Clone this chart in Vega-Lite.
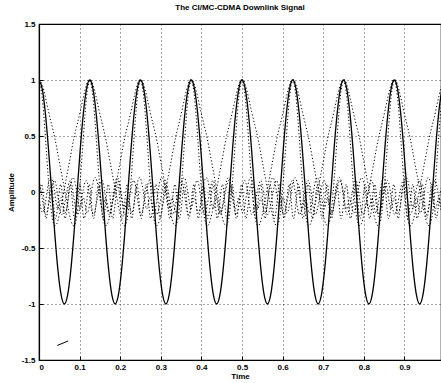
{
"$schema": "https://vega.github.io/schema/vega-lite/v6.json",
"autosize": "none",
"padding": {"left": 39, "top": 24, "right": 0, "bottom": 23},
"width": 402,
"height": 336,
"background": "white",
"title": {"text": "The CI/MC-CDMA Downlink Signal", "fontSize": 8, "font": "Liberation Sans", "fontWeight": "bold", "offset": 8, "color": "black"},
"data": {"values": [
{"t":0,"s":1,"a":1,"b":1,"c":0.1,"d":-0.05,"e":-0.1},
{"t":0.0078,"s":0.924,"a":0.96,"b":0.85,"c":-0.05,"d":-0.18,"e":0.06},
{"t":0.0156,"s":0.707,"a":0.85,"b":0.5,"c":-0.2,"d":-0.1,"e":-0.22},
{"t":0.0234,"s":0.383,"a":0.72,"b":0.1,"c":-0.12,"d":0.08,"e":-0.1},
{"t":0.0313,"s":0,"a":0.6,"b":-0.2,"c":0.03,"d":0.12,"e":0.06},
{"t":0.0391,"s":-0.383,"a":0.48,"b":-0.3,"c":0.1,"d":-0.02,"e":-0.22},
{"t":0.0469,"s":-0.707,"a":0.33,"b":-0.25,"c":-0.05,"d":-0.15,"e":-0.1},
{"t":0.0547,"s":-0.924,"a":0.18,"b":-0.12,"c":-0.2,"d":-0.05,"e":0.06},
{"t":0.0625,"s":-1,"a":0.03,"b":0.03,"c":-0.12,"d":-0.18,"e":-0.22},
{"t":0.0703,"s":-0.924,"a":-0.12,"b":0.18,"c":0.03,"d":-0.1,"e":-0.1},
{"t":0.0781,"s":-0.707,"a":-0.25,"b":0.33,"c":0.1,"d":0.08,"e":0.06},
{"t":0.0859,"s":-0.383,"a":-0.3,"b":0.48,"c":-0.05,"d":0.12,"e":-0.22},
{"t":0.0938,"s":0,"a":-0.2,"b":0.6,"c":-0.2,"d":-0.02,"e":-0.1},
{"t":0.1016,"s":0.383,"a":0.1,"b":0.72,"c":-0.12,"d":-0.15,"e":0.06},
{"t":0.1094,"s":0.707,"a":0.5,"b":0.85,"c":0.03,"d":-0.05,"e":-0.22},
{"t":0.1172,"s":0.924,"a":0.85,"b":0.96,"c":0.1,"d":-0.18,"e":-0.1},
{"t":0.125,"s":1,"a":1,"b":1,"c":-0.05,"d":-0.1,"e":0.06},
{"t":0.1328,"s":0.924,"a":0.96,"b":0.85,"c":-0.2,"d":0.08,"e":-0.22},
{"t":0.1406,"s":0.707,"a":0.85,"b":0.5,"c":-0.12,"d":0.12,"e":-0.1},
{"t":0.1484,"s":0.383,"a":0.72,"b":0.1,"c":0.03,"d":-0.02,"e":0.06},
{"t":0.1563,"s":0,"a":0.6,"b":-0.2,"c":0.1,"d":-0.15,"e":-0.22},
{"t":0.1641,"s":-0.383,"a":0.48,"b":-0.3,"c":-0.05,"d":-0.05,"e":-0.1},
{"t":0.1719,"s":-0.707,"a":0.33,"b":-0.25,"c":-0.2,"d":-0.18,"e":0.06},
{"t":0.1797,"s":-0.924,"a":0.18,"b":-0.12,"c":-0.12,"d":-0.1,"e":-0.22},
{"t":0.1875,"s":-1,"a":0.03,"b":0.03,"c":0.03,"d":0.08,"e":-0.1},
{"t":0.1953,"s":-0.924,"a":-0.12,"b":0.18,"c":0.1,"d":0.12,"e":0.06},
{"t":0.2031,"s":-0.707,"a":-0.25,"b":0.33,"c":-0.05,"d":-0.02,"e":-0.22},
{"t":0.2109,"s":-0.383,"a":-0.3,"b":0.48,"c":-0.2,"d":-0.15,"e":-0.1},
{"t":0.2188,"s":0,"a":-0.2,"b":0.6,"c":-0.12,"d":-0.05,"e":0.06},
{"t":0.2266,"s":0.383,"a":0.1,"b":0.72,"c":0.03,"d":-0.18,"e":-0.22},
{"t":0.2344,"s":0.707,"a":0.5,"b":0.85,"c":0.1,"d":-0.1,"e":-0.1},
{"t":0.2422,"s":0.924,"a":0.85,"b":0.96,"c":-0.05,"d":0.08,"e":0.06},
{"t":0.25,"s":1,"a":1,"b":1,"c":-0.2,"d":0.12,"e":-0.22},
{"t":0.2578,"s":0.924,"a":0.96,"b":0.85,"c":-0.12,"d":-0.02,"e":-0.1},
{"t":0.2656,"s":0.707,"a":0.85,"b":0.5,"c":0.03,"d":-0.15,"e":0.06},
{"t":0.2734,"s":0.383,"a":0.72,"b":0.1,"c":0.1,"d":-0.05,"e":-0.22},
{"t":0.2813,"s":0,"a":0.6,"b":-0.2,"c":-0.05,"d":-0.18,"e":-0.1},
{"t":0.2891,"s":-0.383,"a":0.48,"b":-0.3,"c":-0.2,"d":-0.1,"e":0.06},
{"t":0.2969,"s":-0.707,"a":0.33,"b":-0.25,"c":-0.12,"d":0.08,"e":-0.22},
{"t":0.3047,"s":-0.924,"a":0.18,"b":-0.12,"c":0.03,"d":0.12,"e":-0.1},
{"t":0.3125,"s":-1,"a":0.03,"b":0.03,"c":0.1,"d":-0.02,"e":0.06},
{"t":0.3203,"s":-0.924,"a":-0.12,"b":0.18,"c":-0.05,"d":-0.15,"e":-0.22},
{"t":0.3281,"s":-0.707,"a":-0.25,"b":0.33,"c":-0.2,"d":-0.05,"e":-0.1},
{"t":0.3359,"s":-0.383,"a":-0.3,"b":0.48,"c":-0.12,"d":-0.18,"e":0.06},
{"t":0.3438,"s":0,"a":-0.2,"b":0.6,"c":0.03,"d":-0.1,"e":-0.22},
{"t":0.3516,"s":0.383,"a":0.1,"b":0.72,"c":0.1,"d":0.08,"e":-0.1},
{"t":0.3594,"s":0.707,"a":0.5,"b":0.85,"c":-0.05,"d":0.12,"e":0.06},
{"t":0.3672,"s":0.924,"a":0.85,"b":0.96,"c":-0.2,"d":-0.02,"e":-0.22},
{"t":0.375,"s":1,"a":1,"b":1,"c":-0.12,"d":-0.15,"e":-0.1},
{"t":0.3828,"s":0.924,"a":0.96,"b":0.85,"c":0.03,"d":-0.05,"e":0.06},
{"t":0.3906,"s":0.707,"a":0.85,"b":0.5,"c":0.1,"d":-0.18,"e":-0.22},
{"t":0.3984,"s":0.383,"a":0.72,"b":0.1,"c":-0.05,"d":-0.1,"e":-0.1},
{"t":0.4063,"s":0,"a":0.6,"b":-0.2,"c":-0.2,"d":0.08,"e":0.06},
{"t":0.4141,"s":-0.383,"a":0.48,"b":-0.3,"c":-0.12,"d":0.12,"e":-0.22},
{"t":0.4219,"s":-0.707,"a":0.33,"b":-0.25,"c":0.03,"d":-0.02,"e":-0.1},
{"t":0.4297,"s":-0.924,"a":0.18,"b":-0.12,"c":0.1,"d":-0.15,"e":0.06},
{"t":0.4375,"s":-1,"a":0.03,"b":0.03,"c":-0.05,"d":-0.05,"e":-0.22},
{"t":0.4453,"s":-0.924,"a":-0.12,"b":0.18,"c":-0.2,"d":-0.18,"e":-0.1},
{"t":0.4531,"s":-0.707,"a":-0.25,"b":0.33,"c":-0.12,"d":-0.1,"e":0.06},
{"t":0.4609,"s":-0.383,"a":-0.3,"b":0.48,"c":0.03,"d":0.08,"e":-0.22},
{"t":0.4688,"s":0,"a":-0.2,"b":0.6,"c":0.1,"d":0.12,"e":-0.1},
{"t":0.4766,"s":0.383,"a":0.1,"b":0.72,"c":-0.05,"d":-0.02,"e":0.06},
{"t":0.4844,"s":0.707,"a":0.5,"b":0.85,"c":-0.2,"d":-0.15,"e":-0.22},
{"t":0.4922,"s":0.924,"a":0.85,"b":0.96,"c":-0.12,"d":-0.05,"e":-0.1},
{"t":0.5,"s":1,"a":1,"b":1,"c":0.03,"d":-0.18,"e":0.06},
{"t":0.5078,"s":0.924,"a":0.96,"b":0.85,"c":0.1,"d":-0.1,"e":-0.22},
{"t":0.5156,"s":0.707,"a":0.85,"b":0.5,"c":-0.05,"d":0.08,"e":-0.1},
{"t":0.5234,"s":0.383,"a":0.72,"b":0.1,"c":-0.2,"d":0.12,"e":0.06},
{"t":0.5313,"s":0,"a":0.6,"b":-0.2,"c":-0.12,"d":-0.02,"e":-0.22},
{"t":0.5391,"s":-0.383,"a":0.48,"b":-0.3,"c":0.03,"d":-0.15,"e":-0.1},
{"t":0.5469,"s":-0.707,"a":0.33,"b":-0.25,"c":0.1,"d":-0.05,"e":0.06},
{"t":0.5547,"s":-0.924,"a":0.18,"b":-0.12,"c":-0.05,"d":-0.18,"e":-0.22},
{"t":0.5625,"s":-1,"a":0.03,"b":0.03,"c":-0.2,"d":-0.1,"e":-0.1},
{"t":0.5703,"s":-0.924,"a":-0.12,"b":0.18,"c":-0.12,"d":0.08,"e":0.06},
{"t":0.5781,"s":-0.707,"a":-0.25,"b":0.33,"c":0.03,"d":0.12,"e":-0.22},
{"t":0.5859,"s":-0.383,"a":-0.3,"b":0.48,"c":0.1,"d":-0.02,"e":-0.1},
{"t":0.5938,"s":0,"a":-0.2,"b":0.6,"c":-0.05,"d":-0.15,"e":0.06},
{"t":0.6016,"s":0.383,"a":0.1,"b":0.72,"c":-0.2,"d":-0.05,"e":-0.22},
{"t":0.6094,"s":0.707,"a":0.5,"b":0.85,"c":-0.12,"d":-0.18,"e":-0.1},
{"t":0.6172,"s":0.924,"a":0.85,"b":0.96,"c":0.03,"d":-0.1,"e":0.06},
{"t":0.625,"s":1,"a":1,"b":1,"c":0.1,"d":0.08,"e":-0.22},
{"t":0.6328,"s":0.924,"a":0.96,"b":0.85,"c":-0.05,"d":0.12,"e":-0.1},
{"t":0.6406,"s":0.707,"a":0.85,"b":0.5,"c":-0.2,"d":-0.02,"e":0.06},
{"t":0.6484,"s":0.383,"a":0.72,"b":0.1,"c":-0.12,"d":-0.15,"e":-0.22},
{"t":0.6563,"s":0,"a":0.6,"b":-0.2,"c":0.03,"d":-0.05,"e":-0.1},
{"t":0.6641,"s":-0.383,"a":0.48,"b":-0.3,"c":0.1,"d":-0.18,"e":0.06},
{"t":0.6719,"s":-0.707,"a":0.33,"b":-0.25,"c":-0.05,"d":-0.1,"e":-0.22},
{"t":0.6797,"s":-0.924,"a":0.18,"b":-0.12,"c":-0.2,"d":0.08,"e":-0.1},
{"t":0.6875,"s":-1,"a":0.03,"b":0.03,"c":-0.12,"d":0.12,"e":0.06},
{"t":0.6953,"s":-0.924,"a":-0.12,"b":0.18,"c":0.03,"d":-0.02,"e":-0.22},
{"t":0.7031,"s":-0.707,"a":-0.25,"b":0.33,"c":0.1,"d":-0.15,"e":-0.1},
{"t":0.7109,"s":-0.383,"a":-0.3,"b":0.48,"c":-0.05,"d":-0.05,"e":0.06},
{"t":0.7188,"s":0,"a":-0.2,"b":0.6,"c":-0.2,"d":-0.18,"e":-0.22},
{"t":0.7266,"s":0.383,"a":0.1,"b":0.72,"c":-0.12,"d":-0.1,"e":-0.1},
{"t":0.7344,"s":0.707,"a":0.5,"b":0.85,"c":0.03,"d":0.08,"e":0.06},
{"t":0.7422,"s":0.924,"a":0.85,"b":0.96,"c":0.1,"d":0.12,"e":-0.22},
{"t":0.75,"s":1,"a":1,"b":1,"c":-0.05,"d":-0.02,"e":-0.1},
{"t":0.7578,"s":0.924,"a":0.96,"b":0.85,"c":-0.2,"d":-0.15,"e":0.06},
{"t":0.7656,"s":0.707,"a":0.85,"b":0.5,"c":-0.12,"d":-0.05,"e":-0.22},
{"t":0.7734,"s":0.383,"a":0.72,"b":0.1,"c":0.03,"d":-0.18,"e":-0.1},
{"t":0.7813,"s":0,"a":0.6,"b":-0.2,"c":0.1,"d":-0.1,"e":0.06},
{"t":0.7891,"s":-0.383,"a":0.48,"b":-0.3,"c":-0.05,"d":0.08,"e":-0.22},
{"t":0.7969,"s":-0.707,"a":0.33,"b":-0.25,"c":-0.2,"d":0.12,"e":-0.1},
{"t":0.8047,"s":-0.924,"a":0.18,"b":-0.12,"c":-0.12,"d":-0.02,"e":0.06},
{"t":0.8125,"s":-1,"a":0.03,"b":0.03,"c":0.03,"d":-0.15,"e":-0.22},
{"t":0.8203,"s":-0.924,"a":-0.12,"b":0.18,"c":0.1,"d":-0.05,"e":-0.1},
{"t":0.8281,"s":-0.707,"a":-0.25,"b":0.33,"c":-0.05,"d":-0.18,"e":0.06},
{"t":0.8359,"s":-0.383,"a":-0.3,"b":0.48,"c":-0.2,"d":-0.1,"e":-0.22},
{"t":0.8438,"s":0,"a":-0.2,"b":0.6,"c":-0.12,"d":0.08,"e":-0.1},
{"t":0.8516,"s":0.383,"a":0.1,"b":0.72,"c":0.03,"d":0.12,"e":0.06},
{"t":0.8594,"s":0.707,"a":0.5,"b":0.85,"c":0.1,"d":-0.02,"e":-0.22},
{"t":0.8672,"s":0.924,"a":0.85,"b":0.96,"c":-0.05,"d":-0.15,"e":-0.1},
{"t":0.875,"s":1,"a":1,"b":1,"c":-0.2,"d":-0.05,"e":0.06},
{"t":0.8828,"s":0.924,"a":0.96,"b":0.85,"c":-0.12,"d":-0.18,"e":-0.22},
{"t":0.8906,"s":0.707,"a":0.85,"b":0.5,"c":0.03,"d":-0.1,"e":-0.1},
{"t":0.8984,"s":0.383,"a":0.72,"b":0.1,"c":0.1,"d":0.08,"e":0.06},
{"t":0.9063,"s":0,"a":0.6,"b":-0.2,"c":-0.05,"d":0.12,"e":-0.22},
{"t":0.9141,"s":-0.383,"a":0.48,"b":-0.3,"c":-0.2,"d":-0.02,"e":-0.1},
{"t":0.9219,"s":-0.707,"a":0.33,"b":-0.25,"c":-0.12,"d":-0.15,"e":0.06},
{"t":0.9297,"s":-0.924,"a":0.18,"b":-0.12,"c":0.03,"d":-0.05,"e":-0.22},
{"t":0.9375,"s":-1,"a":0.03,"b":0.03,"c":0.1,"d":-0.18,"e":-0.1},
{"t":0.9453,"s":-0.924,"a":-0.12,"b":0.18,"c":-0.05,"d":-0.1,"e":0.06},
{"t":0.9531,"s":-0.707,"a":-0.25,"b":0.33,"c":-0.2,"d":0.08,"e":-0.22},
{"t":0.9609,"s":-0.383,"a":-0.3,"b":0.48,"c":-0.12,"d":0.12,"e":-0.1},
{"t":0.9688,"s":0,"a":-0.2,"b":0.6,"c":0.03,"d":-0.02,"e":0.06},
{"t":0.9766,"s":0.383,"a":0.1,"b":0.72,"c":0.1,"d":-0.15,"e":-0.22},
{"t":0.9844,"s":0.707,"a":0.5,"b":0.85,"c":-0.05,"d":-0.05,"e":-0.1},
{"t":0.9922,"s":0.924,"a":0.85,"b":0.96,"c":-0.2,"d":-0.18,"e":0.06}
]},
"layer": [
{
"transform": [{"fold": ["a", "b", "c", "d", "e"], "as": ["k", "v"]}],
"mark": {"type": "line", "interpolate": "natural", "strokeWidth": 1, "strokeDash": [1.2, 2.2], "color": "black", "clip": true},
"encoding": {
"x": {"field": "t", "type": "quantitative", "title": "Time",
 "scale": {"domain": [0, 0.99], "nice": false, "zero": false},
 "axis": {"values": [0, 0.1, 0.2, 0.3, 0.4, 0.5, 0.6, 0.7, 0.8, 0.9], "labelExpr": "toString(datum.value)", "grid": true, "tickSize": -4, "labelPadding": 7, "titlePadding": 1}},
"y": {"field": "v", "type": "quantitative", "title": "Amplitude",
 "scale": {"domain": [-1.5, 1.5], "nice": false},
 "axis": {"values": [-1.5, -1, -0.5, 0, 0.5, 1, 1.5], "labelExpr": "toString(datum.value)", "grid": true, "tickSize": -4, "labelPadding": 8, "titlePadding": 6}},
"detail": {"field": "k", "type": "nominal"}
}
},
{
"mark": {"type": "line", "interpolate": "natural", "strokeWidth": 1.3, "color": "black", "clip": true},
"encoding": {
"x": {"field": "t", "type": "quantitative", "title": "Time"},
"y": {"field": "s", "type": "quantitative", "title": "Amplitude"}
}
},
{
"data": {"values": [{"t": 0.045, "v": -1.37}, {"t": 0.072, "v": -1.33}]},
"mark": {"type": "line", "strokeWidth": 1, "color": "black"},
"encoding": {
"x": {"field": "t", "type": "quantitative", "title": "Time"},
"y": {"field": "v", "type": "quantitative", "title": "Amplitude"}
}
}
],
"config": {
"view": {"stroke": "black", "strokeWidth": 1.2},
"axis": {"labelFont": "Liberation Sans", "labelFontWeight": "bold", "labelFontSize": 8, "labelColor": "black", "titleFont": "Liberation Sans", "titleFontWeight": "bold", "titleFontSize": 8, "titleColor": "black", "domainColor": "black", "domainWidth": 1.2, "tickColor": "black", "gridColor": "black", "gridOpacity": 1, "gridDash": [1, 3], "gridWidth": 0.7}
}
}
